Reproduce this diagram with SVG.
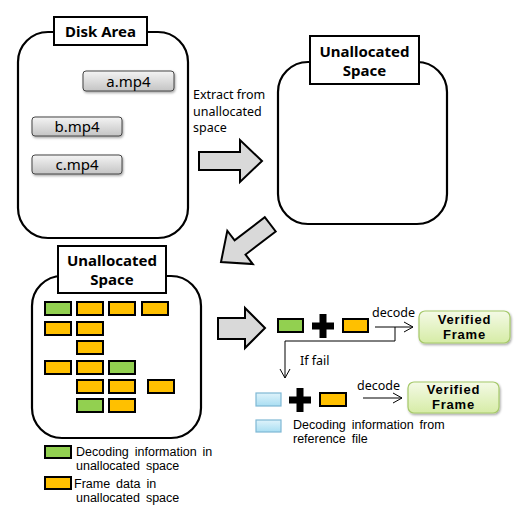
<svg xmlns="http://www.w3.org/2000/svg" width="526" height="512" viewBox="0 0 526 512">
<style>
.cont{fill:#fff;stroke:#000;stroke-width:2.2}
.lbl{fill:#fff;stroke:#000;stroke-width:2}
.title{font-family:"Noto Sans","Liberation Sans",sans-serif;font-weight:bold;font-size:15px;fill:#000;text-anchor:middle}
.btn{fill:url(#gbtn);stroke:#444;stroke-width:1}
.btxt{font-family:"Noto Sans","Liberation Sans",sans-serif;font-size:15px;fill:#000;text-anchor:middle}
.txt{font-family:"Noto Sans","Liberation Sans",sans-serif;font-size:12.5px;fill:#000}
.leg{font-family:"Liberation Sans","Noto Sans",sans-serif;font-size:12.5px;fill:#000;word-spacing:2.5px}
.big{fill:#d9d9d9;stroke:#000;stroke-width:2;stroke-linejoin:miter}
.g{fill:#92d050;stroke:#000;stroke-width:2}
.o{fill:#ffc000;stroke:#000;stroke-width:2}
.b{fill:url(#gblue);stroke:#7fb8d4;stroke-width:1.2}
.vf{fill:url(#ggreen);stroke:#a6c96a;stroke-width:1.2}
.vtxt{font-family:"Liberation Sans","Noto Sans",sans-serif;font-weight:bold;font-size:13px;letter-spacing:0.8px;fill:#000;text-anchor:middle}
.ln{fill:none;stroke:#000;stroke-width:1}
</style>
<defs>
<linearGradient id="gbtn" x1="0" y1="0" x2="0" y2="1"><stop offset="0" stop-color="#f4f4f4"/><stop offset="1" stop-color="#c4c4c4"/></linearGradient>
<linearGradient id="gblue" x1="0" y1="0" x2="0" y2="1"><stop offset="0" stop-color="#dff3fb"/><stop offset="1" stop-color="#a9def2"/></linearGradient>
<linearGradient id="ggreen" x1="0" y1="0" x2="0" y2="1"><stop offset="0" stop-color="#f4fae6"/><stop offset="1" stop-color="#d6eca6"/></linearGradient>
<marker id="open" markerWidth="12" markerHeight="12" refX="10" refY="6" orient="auto" markerUnits="userSpaceOnUse"><path d="M1,1 L10,6 L1,11" fill="none" stroke="#000" stroke-width="1"/></marker>
<filter id="sh" x="-10%" y="-10%" width="130%" height="140%"><feDropShadow dx="1" dy="1.5" stdDeviation="0.8" flood-color="#000" flood-opacity="0.35"/></filter>
<polygon id="plus" points="-3.5,-12 3.5,-12 3.5,-3.5 11,-3.5 11,3.5 3.5,3.5 3.5,12 -3.5,12 -3.5,3.5 -11,3.5 -11,-3.5 -3.5,-3.5" fill="#000"/>
</defs>

<g id="disk-area">
<rect class="cont" x="18" y="32" width="170" height="206" rx="30"/>
<rect class="lbl" x="54" y="17" width="93" height="28"/>
<text class="title" x="100.5" y="37" font-size="16">Disk Area</text>
<g id="file-a"><rect class="btn" x="83" y="71" width="91" height="20" rx="3" filter="url(#sh)"/><text class="btxt" x="128.5" y="87">a.mp4</text></g>
<g id="file-b"><rect class="btn" x="32" y="117" width="90" height="19" rx="3" filter="url(#sh)"/><text class="btxt" x="77" y="132">b.mp4</text></g>
<g id="file-c"><rect class="btn" x="32" y="155" width="90" height="19" rx="3" filter="url(#sh)"/><text class="btxt" x="77" y="170">c.mp4</text></g>
</g>

<g id="unallocated-top">
<rect class="cont" x="278" y="62" width="169" height="162" rx="30"/>
<rect class="lbl" x="310" y="36" width="109" height="48"/>
<text class="title" x="364.5" y="57">Unallocated</text>
<text class="title" x="364.5" y="76">Space</text>
</g>

<g id="unallocated-bottom">
<rect class="cont" x="32" y="276" width="169" height="162" rx="30"/>
<rect class="lbl" x="58" y="246" width="108" height="47"/>
<text class="title" x="112" y="266">Unallocated</text>
<text class="title" x="112" y="285">Space</text>
<rect class="g" x="45" y="302" width="26" height="13"/>
<rect class="o" x="77" y="302" width="26" height="13"/>
<rect class="o" x="109" y="302" width="26" height="13"/>
<rect class="o" x="142" y="302" width="26" height="13"/>
<rect class="o" x="45" y="322" width="26" height="13"/>
<rect class="o" x="77" y="322" width="26" height="13"/>
<rect class="o" x="77" y="341" width="26" height="13"/>
<rect class="o" x="45" y="361" width="26" height="13"/>
<rect class="o" x="77" y="361" width="26" height="13"/>
<rect class="g" x="109" y="361" width="26" height="13"/>
<rect class="o" x="77" y="380" width="26" height="13"/>
<rect class="o" x="109" y="380" width="26" height="13"/>
<rect class="o" x="148" y="380" width="26" height="13"/>
<rect class="g" x="77" y="399" width="26" height="13"/>
<rect class="o" x="109" y="399" width="26" height="13"/>
</g>

<g id="legend">
<rect class="g" x="45" y="446" width="26" height="12"/>
<text class="leg" x="76" y="456">Decoding information in</text>
<text class="leg" x="76" y="470">unallocated space</text>
<rect class="o" x="45" y="477" width="26" height="12"/>
<text class="leg" x="74" y="488">Frame data in</text>
<text class="leg" x="76" y="502">unallocated space</text>
<rect class="b" x="256" y="420" width="25" height="12"/>
<text class="leg" x="293" y="429">Decoding information from</text>
<text class="leg" x="293" y="443">reference file</text>
</g>

<g id="decode-row-1">
<rect class="g" x="278" y="319" width="25" height="13"/>
<use href="#plus" x="323" y="326"/>
<rect class="o" x="343" y="319" width="25" height="13"/>
</g>
<g id="verified-1">
<rect class="vf" x="419" y="311" width="91" height="32" rx="6" filter="url(#sh)"/>
<text class="vtxt" x="464.5" y="324">Verified</text>
<text class="vtxt" x="464.5" y="339">Frame</text>
</g>

<g id="decode-row-2">
<rect class="b" x="256" y="393" width="25" height="13"/>
<use href="#plus" x="300" y="400"/>
<rect class="o" x="320" y="393" width="26" height="13"/>
</g>
<g id="verified-2">
<rect class="vf" x="408" y="382" width="91" height="31" rx="6" filter="url(#sh)"/>
<text class="vtxt" x="453.5" y="394">Verified</text>
<text class="vtxt" x="453.5" y="409">Frame</text>
</g>

<g id="connectors">
<polygon class="big" points="199,152 240,152 240,140 262,161 240,182 240,170 199,170"/>
<polygon class="big" points="-62,-9 -24,-9 -24,-21 0,0 -24,21 -24,9 -62,9" transform="translate(221,262) rotate(142.6)"/>
<polygon class="big" points="218,318 245,318 245,308 265,328 245,348 245,339 218,339"/>
<text class="txt" x="193" y="99">Extract from</text>
<text class="txt" x="193" y="116">unallocated</text>
<text class="txt" x="193" y="132">space</text>
<text class="txt" x="372" y="317">decode</text>
<line class="ln" x1="375" y1="327" x2="413" y2="327" marker-end="url(#open)"/>
<polyline class="ln" points="395,327 395,341 285,341 285,378" marker-end="url(#open)"/>
<text class="txt" x="300" y="365">If fail</text>
<text class="txt" x="357" y="390">decode</text>
<line class="ln" x1="363" y1="398" x2="402" y2="398" marker-end="url(#open)"/>
</g>
</svg>
